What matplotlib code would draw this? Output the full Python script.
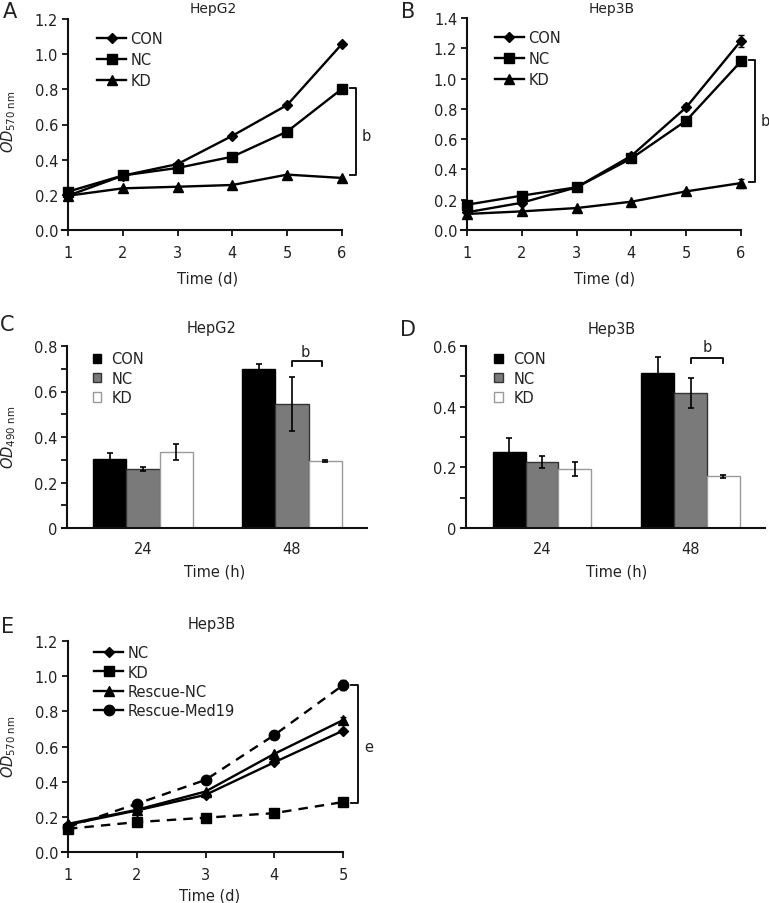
import matplotlib
matplotlib.use('Agg')
import matplotlib.pyplot as plt
import numpy as np
from matplotlib.lines import Line2D
from matplotlib.ticker import MultipleLocator, FixedLocator

plt.rcParams['font.family'] = ['DejaVu Sans']
plt.rcParams['mathtext.fontset'] = 'custom'
plt.rcParams['mathtext.rm'] = 'DejaVu Sans'
plt.rcParams['mathtext.it'] = 'DejaVu Sans:italic'

# ---------------- data ----------------
days6 = [1, 2, 3, 4, 5, 6]
a_con = [0.195, 0.309, 0.375, 0.536, 0.711, 1.058]
a_nc = [0.218, 0.310, 0.353, 0.417, 0.560, 0.803]
a_kd = [0.195, 0.237, 0.246, 0.256, 0.315, 0.296]

b_con = [0.117, 0.180, 0.282, 0.490, 0.810, 1.250]
b_con_err = [0, 0, 0, 0, 0.02, 0.04]
b_nc = [0.167, 0.227, 0.282, 0.473, 0.722, 1.114]
b_nc_err = [0, 0, 0, 0.01, 0.01, 0.01]
b_kd = [0.106, 0.123, 0.145, 0.187, 0.255, 0.310]
b_kd_err = [0, 0, 0, 0, 0.01, 0.03]

groups = ['24', '48']
series = ['CON', 'NC', 'KD']
c_means = {'CON': [0.303, 0.700], 'NC': [0.260, 0.545], 'KD': [0.333, 0.296]}
c_errs = {'CON': [0.025, 0.022], 'NC': [0.008, 0.120], 'KD': [0.035, 0.005]}
d_means = {'CON': [0.250, 0.512], 'NC': [0.218, 0.446], 'KD': [0.195, 0.170]}
d_errs = {'CON': [0.047, 0.053], 'NC': [0.021, 0.050], 'KD': [0.022, 0.005]}

days5 = [1, 2, 3, 4, 5]
e_nc = [0.155, 0.236, 0.325, 0.510, 0.690]
e_kd = [0.132, 0.170, 0.195, 0.221, 0.284]
e_rnc = [0.160, 0.240, 0.344, 0.558, 0.750]
e_rmed = [0.142, 0.274, 0.410, 0.665, 0.949]
e_nc_err = [0, 0, 0, 0, 0.01]
e_kd_err = [0, 0, 0, 0, 0.02]
e_rnc_err = [0, 0, 0, 0, 0.02]
e_rmed_err = [0, 0, 0, 0.02, 0.03]

# ---------------- layout helpers ----------------
W, H = 769, 904
fig = plt.figure(figsize=(W / 100, H / 100), dpi=100)
TXT = '#222222'
FS = 10.5


def rect(l, t, r, b):
    return [l / W, 1 - b / H, (r - l) / W, (b - t) / H]


def ftext(x, y, s, va='center', **kw):
    fig.text(x / W, 1 - y / H, s, ha='center', va=va, color=TXT, **kw)


def base_style(ax):
    for s in ['top', 'right']:
        ax.spines[s].set_visible(False)
    for s in ['left', 'bottom']:
        ax.spines[s].set_linewidth(1.5)
        ax.spines[s].set_color('#111111')
    ax.tick_params(axis='both', which='both', direction='out', length=4, width=1.3,
                   colors='#111111', labelcolor=TXT, labelsize=FS)
    ax.tick_params(axis='x', pad=7)
    ax.tick_params(axis='y', pad=3)


ylab = r'$\mathit{OD}_{\mathregular{570\ nm}}$'
ylab490 = r'$\mathit{OD}_{\mathregular{490\ nm}}$'


def line_panel(box, spine_px, unit_px, xmax, ymax, xs, data, yerrs, styles, labels,
               leg_anchor, leg_spacing):
    ax = fig.add_axes(rect(*box))
    base_style(ax)
    ax.set_xlim(1 - (spine_px - box[0]) / unit_px, xmax)
    ax.set_ylim(0, ymax)
    ax.spines['left'].set_position(('data', 1))
    ax.set_xticks(xs)
    ax.set_yticks(np.arange(0, ymax + 1e-9, 0.2))
    ax.set_yticklabels(['%.1f' % v for v in np.arange(0, ymax + 1e-9, 0.2)])
    handles = []
    for y, e, (mk, ms, ls) in zip(data, yerrs, styles):
        ax.errorbar(xs, y, yerr=e, fmt=mk, ls=ls, color='black', ms=ms, lw=1.7,
                    elinewidth=1.0, capsize=2, clip_on=False, zorder=3,
                    dashes=(4, 3) if ls == '--' else (None, None))
        handles.append(Line2D([], [], color='black', marker=mk, ms=ms, lw=1.7))
    ax.legend(handles, labels, loc='upper left', bbox_to_anchor=leg_anchor, frameon=False,
              fontsize=FS, handlelength=2.0, handletextpad=0.3, labelspacing=leg_spacing,
              borderpad=0, borderaxespad=0, labelcolor=TXT)
    return ax


def bracket(ax, x0, x1, y0, y1):
    ax.plot([x0, x1, x1, x0], [y0, y0, y1, y1], color='black', lw=1.3, clip_on=False)


# ---------------- Panel A ----------------
axA = line_panel((62, 20, 342, 231), 68, 54.8, 6, 1.2, days6, [a_con, a_nc, a_kd],
                 [None, None, None], [('D', 5, '-'), ('s', 7.5, '-'), ('^', 7, '-')],
                 ['CON', 'NC', 'KD'], (0.125, 0.945), 0.42)
bracket(axA, 6.15, 6.26, 0.805, 0.31)
axA.text(6.45, 0.54, 'b', fontsize=FS, color=TXT, ha='center', va='center', clip_on=False)
ftext(10, 12, 'A', fontsize=15)
ftext(213, 13, 'HepG2', fontsize=10, va='baseline')
ftext(208, 279, 'Time (d)', fontsize=FS)
ftext(9, 122, ylab, fontsize=FS, rotation=90)

# ---------------- Panel B ----------------
axB = line_panel((461, 19, 741, 231), 467, 54.8, 6, 1.4, days6, [b_con, b_nc, b_kd],
                 [b_con_err, b_nc_err, b_kd_err],
                 [('D', 5, '-'), ('s', 7.5, '-'), ('^', 7, '-')],
                 ['CON', 'NC', 'KD'], (0.12, 0.945), 0.42)
bracket(axB, 6.15, 6.255, 1.12, 0.32)
axB.text(6.44, 0.72, 'b', fontsize=FS, color=TXT, ha='center', va='center', clip_on=False)
ftext(408, 12, 'B', fontsize=15)
ftext(612, 13, 'Hep3B', fontsize=10, va='baseline')
ftext(605, 279, 'Time (d)', fontsize=FS)

# ---------------- Bar panels ----------------
bar_colors = {'CON': 'black', 'NC': '#7a7a7a', 'KD': 'white'}
bar_edges = {'CON': 'black', 'NC': '#333333', 'KD': '#9a9a9a'}
BW = 0.222


def bar_panel(box, centers_px, spine_px, ymax, means, errs, leg_anchor):
    ax = fig.add_axes(rect(*box))
    base_style(ax)
    unit = centers_px[1] - centers_px[0]
    ax.set_xlim((box[0] - centers_px[0]) / unit, (box[2] - centers_px[0]) / unit)
    ax.set_ylim(0, ymax)
    ax.spines['left'].set_position(('data', (spine_px - centers_px[0]) / unit))
    x = np.arange(len(groups))
    for i, s in enumerate(series):
        ax.bar(x + (i - 1) * BW, means[s], BW, color=bar_colors[s], edgecolor=bar_edges[s],
               lw=1.0, label=s, zorder=2)
        ax.errorbar(x + (i - 1) * BW, means[s], yerr=errs[s], fmt='none', ecolor='black',
                    elinewidth=1.2, capsize=2.5, capthick=1.2, zorder=3)
    ax.set_xticks(x)
    ax.set_xticklabels(groups)
    ax.tick_params(axis='x', length=0, pad=9)
    major = np.arange(0, ymax + 1e-9, 0.2)
    ax.yaxis.set_major_locator(FixedLocator(major))
    ax.set_yticklabels(['0' if v == 0 else '%.1f' % v for v in major])
    ax.yaxis.set_minor_locator(MultipleLocator(0.1))
    ax.tick_params(axis='y', which='minor', length=4, width=1.3)
    ax.legend(loc='upper left', bbox_to_anchor=leg_anchor, frameon=False, fontsize=FS,
              handlelength=0.6, handleheight=0.6, handletextpad=0.7, labelspacing=0.3,
              borderpad=0, borderaxespad=0, labelcolor=TXT)
    return ax


axC = bar_panel((62, 347, 367, 529), (143, 292), 67, 0.8, c_means, c_errs, (0.1, 0.97))
axC.plot([1.0, 1.0, 1.2, 1.2], [0.712, 0.735, 0.735, 0.712], color='black', lw=1.3,
         clip_on=False)
axC.text(1.09, 0.775, 'b', fontsize=FS, color=TXT, ha='center', va='center')
ftext(7, 325, 'C', fontsize=15)
ftext(212, 333, 'HepG2', fontsize=FS, va='baseline')
ftext(215, 572, 'Time (h)', fontsize=FS)
ftext(9, 437, ylab490, fontsize=FS, rotation=90)

axD = bar_panel((461, 347, 765, 529), (542, 690.5), 466, 0.6, d_means, d_errs, (0.11, 0.97))
axD.plot([1.0, 1.0, 1.22, 1.22], [0.545, 0.561, 0.561, 0.545], color='black', lw=1.3,
         clip_on=False)
axD.text(1.11, 0.598, 'b', fontsize=FS, color=TXT, ha='center', va='center')
ftext(408, 330, 'D', fontsize=15)
ftext(612, 334, 'Hep3B', fontsize=FS, va='baseline')
ftext(617, 572, 'Time (h)', fontsize=FS)

# ---------------- Panel E ----------------
axE = line_panel((62, 642, 343, 853), 68, 68.75, 5, 1.2, days5,
                 [e_nc, e_kd, e_rnc, e_rmed], [e_nc_err, e_kd_err, e_rnc_err, e_rmed_err],
                 [('D', 5, '-'), ('s', 7.5, '--'), ('^', 7, '-'), ('o', 7.5, '--')],
                 ['NC', 'KD', 'Rescue-NC', 'Rescue-Med19'], (0.115, 0.98), 0.3)
bracket(axE, 5.12, 5.22, 0.95, 0.28)
axE.text(5.37, 0.6, 'e', fontsize=FS, color=TXT, ha='center', va='center', clip_on=False)
ftext(8, 627, 'E', fontsize=15)
ftext(212, 629, 'Hep3B', fontsize=FS, va='baseline')
ftext(210, 896, 'Time (d)', fontsize=FS)
ftext(9, 747, ylab, fontsize=FS, rotation=90)

fig.savefig('out.png', dpi=100)
